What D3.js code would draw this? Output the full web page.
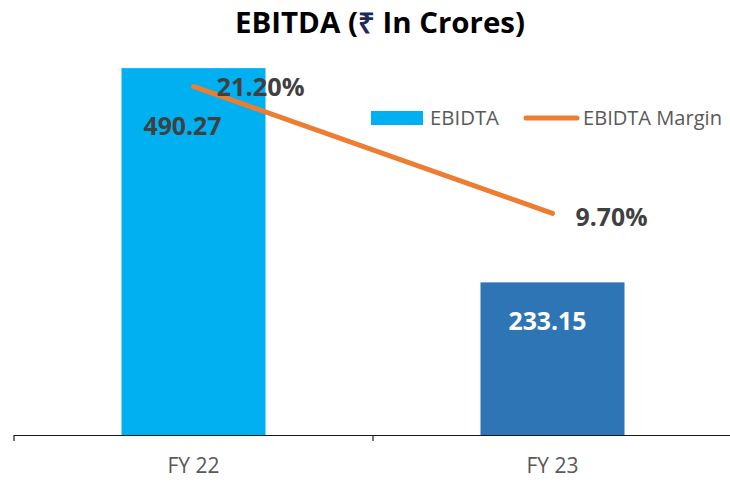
<!DOCTYPE html>
<html><head><meta charset="utf-8">
<script src="https://cdn.jsdelivr.net/npm/d3@7"></script>
<style>body{margin:0;background:#fff}svg{display:block}</style>
</head><body>
<svg id="c" width="730" height="482"></svg>
<script>
const categories = ["FY 22", "FY 23"];
const ebitda = [490.27, 233.15];
const margin = [21.20, 9.70];
const barLabels = ["490.27", "233.15"];
const marginLabels = ["21.20%", "9.70%"];
const barColors = ["#00B0F0", "#2E75B6"];

const svg = d3.select("#c");
const x = d3.scaleBand().domain(categories).range([14, 732]).paddingInner(0).paddingOuter(0);
const y = d3.scaleLinear().domain([50, 500]).range([435, 60]);
const y2 = d3.scaleLinear().domain([-10.4, 23.6]).range([435, 60]);
const bw = 144;
const cx = d => x(d) + x.bandwidth()/2;
const F = "Open Sans, sans-serif";

// title
const t = svg.append("text").attr("x", 380).attr("y", 33).attr("text-anchor", "middle")
  .attr("font-family", F).attr("font-weight", "bold").attr("font-size", 28)
  .attr("fill", "#000").attr("textLength", 290).attr("lengthAdjust", "spacingAndGlyphs");
t.append("tspan").text("EBITDA (");
t.append("tspan").attr("fill", "#1F2A5C").text("₹");
t.append("tspan").text(" In Crores)");

// bars
svg.selectAll("rect.bar").data(categories).enter().append("rect")
  .attr("x", d => cx(d) - bw/2).attr("width", bw)
  .attr("y", (d,i) => y(ebitda[i])).attr("height", (d,i) => y(50) - y(ebitda[i]))
  .attr("fill", (d,i) => barColors[i]);

// axis
svg.append("line").attr("x1", 14).attr("x2", 730).attr("y1", 435.5).attr("y2", 435.5).attr("stroke", "#1a1a1a").attr("stroke-width", 1.2);
[14, 373].forEach(v => svg.append("line").attr("x1", v).attr("x2", v).attr("y1", 435).attr("y2", 441).attr("stroke", "#1a1a1a").attr("stroke-width", 1.2));
svg.selectAll("text.cat").data(categories).enter().append("text")
  .attr("x", d => cx(d)).attr("y", 473).attr("text-anchor", "middle")
  .attr("font-family", F).attr("font-size", 21).attr("fill", "#595959")
  .attr("textLength", 52).attr("lengthAdjust", "spacingAndGlyphs").text(d => d);

// line
const line = d3.line().x((d,i) => cx(categories[i])).y(d => y2(d));
svg.append("path").datum(margin).attr("d", line).attr("fill", "none")
  .attr("stroke", "#ED7D31").attr("stroke-width", 5).attr("stroke-linecap", "round");

// bar labels
svg.selectAll("text.bl").data(categories).enter().append("text")
  .attr("x", (d,i) => cx(d) + (i === 0 ? -11 : -5)).attr("y", (d,i) => i === 0 ? 135 : 330)
  .attr("text-anchor", "middle").attr("font-family", F).attr("font-weight", "bold").attr("font-size", 25)
  .attr("fill", (d,i) => i === 0 ? "#404040" : "#fff")
  .attr("textLength", 78).attr("lengthAdjust", "spacingAndGlyphs")
  .text((d,i) => barLabels[i]);

// margin labels
svg.selectAll("text.ml").data(categories).enter().append("text")
  .attr("x", (d,i) => cx(d) + (i === 0 ? 67 : 59)).attr("y", (d,i) => y2(margin[i]) + (i === 0 ? 10 : 13))
  .attr("text-anchor", "middle").attr("font-family", F).attr("font-weight", "bold").attr("font-size", 25)
  .attr("fill", "#404040")
  .attr("textLength", (d,i) => i === 0 ? 88 : 72).attr("lengthAdjust", "spacingAndGlyphs")
  .text((d,i) => marginLabels[i]);

// legend
svg.append("rect").attr("x", 371).attr("y", 111).attr("width", 52).attr("height", 14).attr("fill", barColors[0]);
svg.append("text").attr("x", 430).attr("y", 125).attr("font-family", F).attr("font-size", 19.5)
  .attr("fill", "#595959").attr("textLength", 69).attr("lengthAdjust", "spacingAndGlyphs").text("EBIDTA");
svg.append("line").attr("x1", 526).attr("x2", 577).attr("y1", 118).attr("y2", 118)
  .attr("stroke", "#ED7D31").attr("stroke-width", 5).attr("stroke-linecap", "round");
svg.append("text").attr("x", 583).attr("y", 125).attr("font-family", F).attr("font-size", 19.5)
  .attr("fill", "#595959").attr("textLength", 139).attr("lengthAdjust", "spacingAndGlyphs").text("EBIDTA Margin");
</script>
</body></html>
